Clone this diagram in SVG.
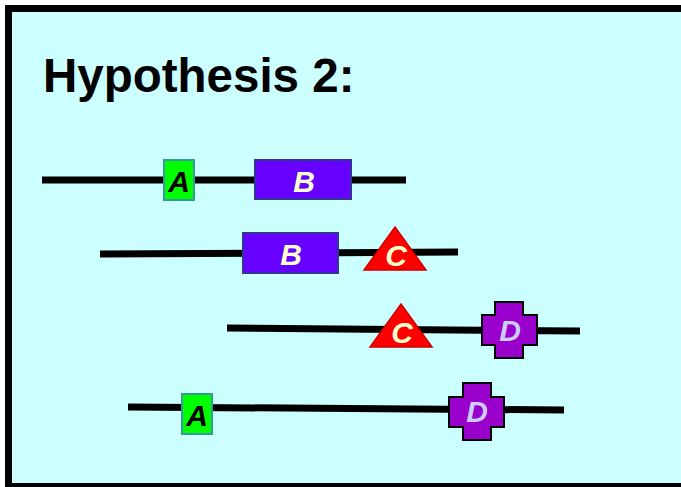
<svg xmlns="http://www.w3.org/2000/svg" width="681" height="487" viewBox="0 0 681 487">
<style>
.lbl{font-family:"Liberation Sans",Arial,sans-serif;font-weight:bold;font-style:italic;font-size:30px;text-anchor:middle}
.ln{stroke:#000;stroke-width:7;fill:none}
.boxA{fill:#00FF00;stroke:#339999;stroke-width:2}
.boxB{fill:#6600FF;stroke:#333399;stroke-width:2}
.triC{fill:#FF0000;stroke:#CC0000;stroke-width:1.5}
.crossD{fill:#9900CC;stroke:#000;stroke-width:2}
</style>
<rect width="681" height="487" fill="#fff"/>
<rect x="8.5" y="8.5" width="700" height="478" fill="#CCFFFF" stroke="#000" stroke-width="7"/>
<text x="43" y="92" font-family="Liberation Sans,Arial,sans-serif" font-weight="bold" font-size="47.5">Hypothesis 2:</text>
<g id="connectors">
<line class="ln" x1="42" y1="180" x2="406" y2="180"/>
<line class="ln" x1="100" y1="254" x2="458" y2="252"/>
<line class="ln" x1="227" y1="328" x2="580" y2="331"/>
<line class="ln" x1="128" y1="407" x2="564" y2="410"/>
</g>
<g id="A1"><rect class="boxA" x="164" y="160" width="30" height="40"/><text class="lbl" x="179" y="192" fill="#000">A</text></g>
<g id="B1"><rect class="boxB" x="255" y="160" width="96" height="39"/><text class="lbl" x="304" y="192" fill="#FFFFCC">B</text></g>
<g id="B2"><rect class="boxB" x="243" y="233" width="95" height="40"/><text class="lbl" x="291" y="265" fill="#FFFFCC">B</text></g>
<g id="C2"><polygon class="triC" points="395,227 426,270 364,270"/><text class="lbl" x="396" y="266" fill="#FFFFCC">C</text></g>
<g id="C3"><polygon class="triC" points="401,304 432,347 370,347"/><text class="lbl" x="402" y="343" fill="#FFFFCC">C</text></g>
<g id="D3"><polygon class="crossD" points="495,302 523,302 523,315 537,315 537,345 523,345 523,358 495,358 495,345 482,345 482,315 495,315"/><text class="lbl" x="510" y="341" fill="#CCCCFF">D</text></g>
<g id="A4"><rect class="boxA" x="182" y="394" width="30" height="40"/><text class="lbl" x="197" y="426" fill="#000">A</text></g>
<g id="D4"><polygon class="crossD" points="463,383 491,383 491,397 504,397 504,427 491,427 491,440 463,440 463,427 449,427 449,397 463,397"/><text class="lbl" x="477" y="422" fill="#CCCCFF">D</text></g>
</svg>
